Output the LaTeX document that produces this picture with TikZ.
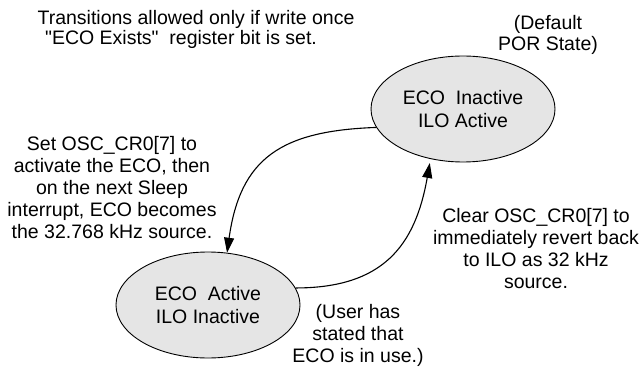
\documentclass[tikz,border=0pt]{standalone}
\usepackage{fontspec}
\setmainfont{Liberation Sans}[Ligatures=TeXOff]
\usetikzlibrary{arrows.meta, shapes.geometric}

\begin{document}
\begin{tikzpicture}[
    x=1pt, y=-1pt,
    state/.style = {draw, ellipse, fill=black!10, line width=0.9pt,
                    minimum width=184pt, minimum height=106pt, inner sep=0pt,
                    align=center, font=\fontsize{19.5}{23}\selectfont},
    note/.style  = {align=center, inner sep=0pt, anchor=base,
                    font=\fontsize{19.5}{21.8}\selectfont},
    trans/.style = {-{Triangle[length=15pt, width=10pt]}, line width=1.1pt},
]
    \useasboundingbox (0,0) rectangle (644,371);

    % ── States ──
    \node[state] (inact) at (463,109) {ECO\ \ Inactive\\ILO Active};
    \node[state] (act) at (208,305) {ECO\ \ Active\\ILO Inactive};

    % ── Notes (placed by the baseline of their last line) ──
    \node[note, font=\fontsize{19.5}{20}\selectfont] (cond) at (196,45)
        {Transitions allowed only if write once\\"ECO Exists"\ \ register bit is set.\hspace*{30pt}};
    \node[note] (por) at (548,51) {(Default\\POR State)};
    \node[note] (setnote) at (112,238)
        {Set OSC\_CR0[7] to\\activate the ECO, then\\on the next Sleep\\interrupt, ECO becomes\\the 32.768 kHz source.};
    \node[note] (clrnote) at (536,288)
        {Clear OSC\_CR0[7] to\\immediately revert back\\to ILO as 32 kHz\\source.};
    \node[note] (user) at (358,362) {(User has\\stated that\\ECO is in use.)};

    % ── Transitions ──
    \draw[trans] (inact.192) to[out=182, in=82, looseness=1.25] (act.70);
    \draw[trans, shorten >=4pt] (act.11) to[out=0, in=-100, looseness=1.2] (inact.237);

\end{tikzpicture}
\end{document}
